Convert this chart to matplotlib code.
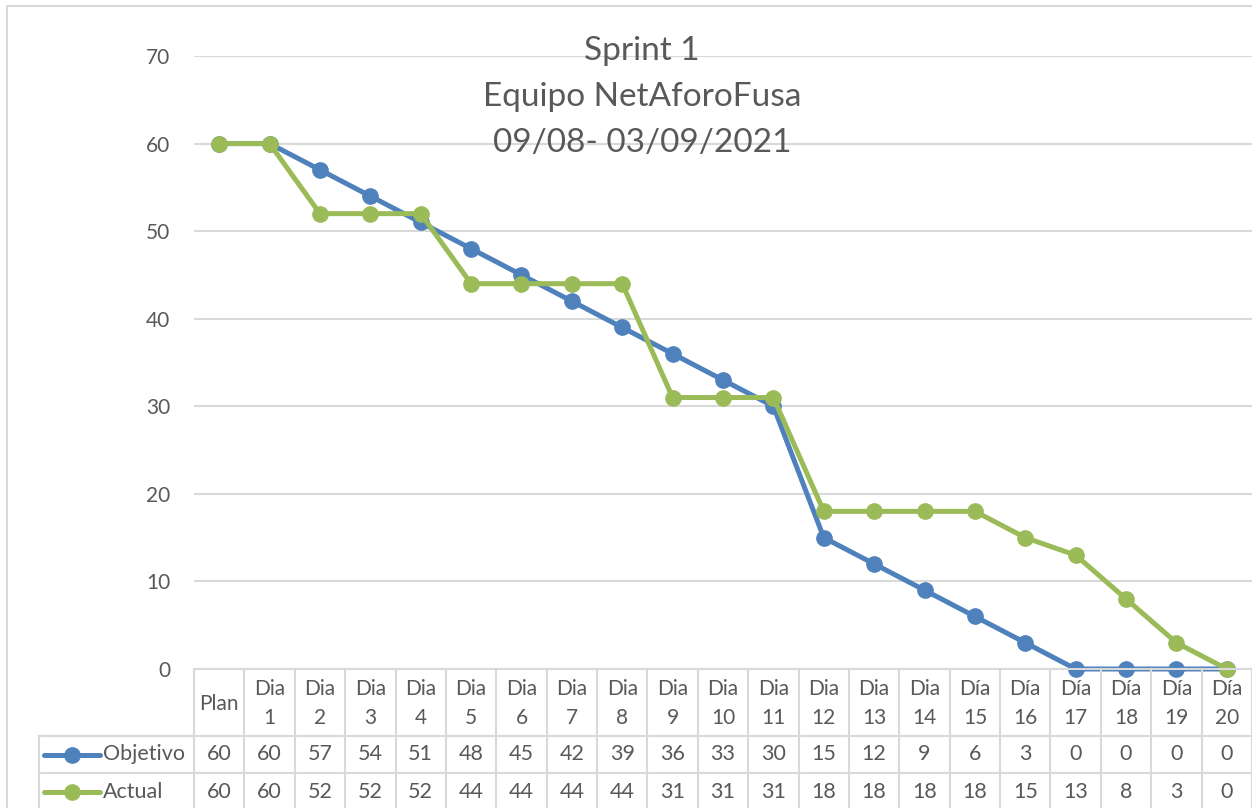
import matplotlib
matplotlib.use("Agg")
import matplotlib.pyplot as plt
from matplotlib.patches import Rectangle

plt.rcParams['font.family'] = ['Lato', 'DejaVu Sans']

# ---- data ----
categories = ["Plan"] + [f"Dia\n{i}" for i in range(1, 15)] + [f"Día\n{i}" for i in range(15, 21)]
objetivo = [60, 60, 57, 54, 51, 48, 45, 42, 39, 36, 33, 30, 15, 12, 9, 6, 3, 0, 0, 0, 0]
actual = [60, 60, 52, 52, 52, 44, 44, 44, 44, 31, 31, 31, 18, 18, 18, 18, 15, 13, 8, 3, 0]
series_names = ["Objetivo", "Actual"]
title_lines = ["Sprint 1", "Equipo NetAforoFusa", "09/08- 03/09/2021"]
yticks = [0, 10, 20, 30, 40, 50, 60, 70]

BLUE = "#4F81BD"
GREEN = "#9BBB59"
GRID = "#D9D9D9"
TXT = "#595959"

W, H = 1252, 808
fig = plt.figure(figsize=(W / 100, H / 100), dpi=100)

def fx(px):
    return px / W

def fy(py):
    return 1 - py / H

# chart area border
fig.patches.append(Rectangle((fx(7), fy(900)), 2, fy(6) - fy(900), transform=fig.transFigure,
                             fill=False, edgecolor=GRID, lw=1.5))

# main axes
L, R, T, B = 194, 1252, 56, 669
ax = fig.add_axes([fx(L), fy(B), (R - L) / W, (B - T) / H])
n = len(categories)
ax.set_xlim(-0.5, n - 0.5)
ax.set_ylim(0, 70)
for s in ax.spines.values():
    s.set_visible(False)
ax.set_xticks([])
ax.set_yticks(yticks)
ax.tick_params(axis='y', length=0, pad=17, labelsize=15, labelcolor=TXT)
ax.grid(axis='y', color=GRID, lw=1.5)
ax.set_axisbelow(True)

x = list(range(n))
colors = [BLUE, GREEN]
for vals, c in zip([objetivo, actual], colors):
    ax.plot(x, vals, color=c, lw=3.6, marker='o', markersize=11, clip_on=False, zorder=5)

# title
for i, t in enumerate(title_lines):
    fig.text(fx(642), fy(51 + i * 46), t, ha='center', va='center', fontsize=24, color=TXT)

# data table
tl = 39
unit = (R - L) / n
xleft = -0.5 - (L - tl) / unit
tax = fig.add_axes([fx(tl), 0, (R - tl) / W, (H - B) / H])
tax.set_xlim(xleft, n - 0.5)
tax.set_ylim(H, B)
tax.axis('off')

def px2x(px):
    return -0.5 + (px - L) / unit

rows_y = [B, 736, 773, H + 5]
lk = dict(color=GRID, lw=1.5, clip_on=False)
tax.plot([-0.5, n - 0.5], [B, B], **lk)
for yy in rows_y[1:3]:
    tax.plot([xleft, n - 0.5], [yy, yy], **lk)
for i in range(n + 1):
    tax.plot([i - 0.5, i - 0.5], [B, H + 5], **lk)
tax.plot([xleft, xleft], [rows_y[1], H + 5], **lk)

# header
for i, c in enumerate(categories):
    tax.text(i, (B + rows_y[1]) / 2 + 1, c, ha='center', va='center', fontsize=15,
             color=TXT, linespacing=1.6)

# rows
for r, (name, vals, c) in enumerate(zip(series_names, [objetivo, actual], colors)):
    yc = (rows_y[r + 1] + rows_y[r + 2]) / 2 + (0 if r == 0 else -1)
    tax.plot([px2x(44), px2x(100)], [yc, yc], color=c, lw=3.6, solid_capstyle='round')
    tax.plot([px2x(72)], [yc], 'o', color=c, markersize=11)
    tax.text(px2x(103), yc, name, ha='left', va='center', fontsize=15.5, color=TXT)
    for i, v in enumerate(vals):
        tax.text(i, yc, str(v), ha='center', va='center', fontsize=15.5, color=TXT)

fig.savefig("out.png", dpi=100)
